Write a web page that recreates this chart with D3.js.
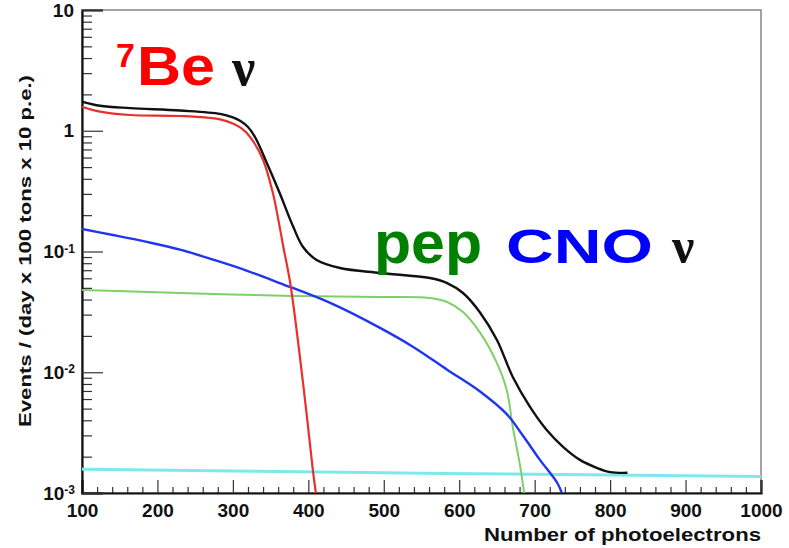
<!DOCTYPE html>
<html>
<head>
<meta charset="utf-8">
<script src="https://cdn.jsdelivr.net/npm/d3@7"></script>
<style>
  body { margin: 0; background: #fff; }
  svg { display: block; }
  text { font-family: "Liberation Sans", Arial, Helvetica, sans-serif; }
</style>
</head>
<body>
<div id="chart"></div>
<script>
// Values (x = number of photoelectrons, y = events)
var totalX = [100, 124, 164, 230, 283, 300, 310, 320, 330, 345, 362, 380, 393, 411, 442, 495, 561, 584, 605, 628, 650, 671, 694, 716, 738, 760, 783, 800, 823];
var totalY = [1.74, 1.61, 1.54, 1.47, 1.38, 1.29, 1.205, 1.075, 0.871, 0.54, 0.305, 0.160, 0.109, 0.0851, 0.0730, 0.0664, 0.0603, 0.0548, 0.0453, 0.0310, 0.0185, 0.00914, 0.00515, 0.00333, 0.00240, 0.00188, 0.00161, 0.00149, 0.00147];

var be7X = [100, 124, 164, 230, 283, 300, 312, 323, 340, 353, 362, 367, 376, 393, 406, 410];
var be7Y = [1.58, 1.44, 1.35, 1.325, 1.244, 1.15, 1.04, 0.887, 0.573, 0.305, 0.160, 0.108, 0.0548, 0.00815, 0.00155, 0.001];

var cnoX = [100, 141, 186, 230, 274, 319, 362, 429, 495, 539, 584, 628, 663, 685, 707, 730, 736];
var cnoY = [0.1535, 0.137, 0.120, 0.1035, 0.0855, 0.0692, 0.0548, 0.0375, 0.0233, 0.0162, 0.0105, 0.0069, 0.0045, 0.00295, 0.00188, 0.00121, 0.001];

var pepX = [100, 230, 380, 495, 561, 584, 605, 628, 650, 663, 671, 681, 686];
var pepY = [0.048, 0.0453, 0.0428, 0.042, 0.0412, 0.0382, 0.0315, 0.0211, 0.0119, 0.00713, 0.00352, 0.00164, 0.001];

var bkgX = [100, 300, 500, 700, 900, 1000];
var bkgY = [0.00157, 0.00152, 0.00147, 0.00143, 0.00139, 0.00137];

var xTicks = [100, 200, 300, 400, 500, 600, 700, 800, 900, 1000];
var yDecades = [0.001, 0.01, 0.1, 1, 10];
var yLabelBase = ['10', '10', '10', '1', '10'];
var yLabelExp = ['-3', '-2', '-1', '', ''];

(function () {
  var W = 789, H = 548;
  var margin = {top: 10, right: 28, bottom: 55, left: 82},
      width = W - margin.left - margin.right,
      height = H - margin.top - margin.bottom;

  var x = d3.scaleLinear().domain([100, 1000]).range([0, width]);
  var y = d3.scaleLog().domain([0.001, 10]).range([height, 0]);

  var svg = d3.select('#chart').append('svg')
      .attr('width', W)
      .attr('height', H);

  var g = svg.append('g')
      .attr('transform', 'translate(' + margin.left + ',' + margin.top + ')');

  g.append('clipPath').attr('id', 'plotClip')
    .append('rect').attr('width', width).attr('height', height);

  // frame
  g.append('rect')
      .attr('width', width).attr('height', height)
      .attr('fill', 'none').attr('stroke', '#666').attr('stroke-width', 1.2);

  // minor ticks
  var xMinor = d3.range(120, 1000, 20).filter(function (v) { return v % 100 !== 0; });
  g.append('g')
      .attr('transform', 'translate(0,' + height + ')')
      .call(d3.axisBottom(x).tickValues(xMinor).tickSize(-6).tickFormat(''))
      .call(function (a) { a.select('.domain').remove(); a.selectAll('line').attr('stroke', '#333').attr('stroke-width', 1.2); });

  var yMinor = [];
  yDecades.slice(0, 4).forEach(function (d) {
    for (var k = 2; k <= 9; k++) yMinor.push(d * k);
  });
  g.append('g')
      .call(d3.axisLeft(y).tickValues(yMinor).tickSize(-10).tickFormat(''))
      .call(function (a) { a.select('.domain').remove(); a.selectAll('line').attr('stroke', '#333').attr('stroke-width', 1.2); });

  // major x axis
  var xAxis = g.append('g')
      .attr('transform', 'translate(0,' + height + ')')
      .call(d3.axisBottom(x).tickValues(xTicks).tickSize(-13).tickPadding(11).tickFormat(d3.format('d')));
  xAxis.select('.domain').attr('stroke', '#111').attr('stroke-width', 2.2);
  xAxis.selectAll('line').attr('stroke', '#333').attr('stroke-width', 1.2);
  xAxis.selectAll('text')
      .attr('fill', '#111')
      .style('font-size', '19px')
      .style('font-weight', 'bold');

  // major y axis with 10^n labels
  var yAxis = g.append('g')
      .call(d3.axisLeft(y).tickValues(yDecades).tickSize(-21).tickPadding(8).tickFormat(''));
  yAxis.select('.domain').attr('stroke', '#111').attr('stroke-width', 2.2);
  yAxis.selectAll('line').attr('stroke', '#333').attr('stroke-width', 1.2);
  yAxis.selectAll('.tick text').each(function (d, i) {
    var t = d3.select(this)
        .attr('fill', '#111')
        .style('font-size', '19px')
        .style('font-weight', 'bold');
    if (yLabelExp[i]) t.attr('x', -7);
    t.append('tspan').text(yLabelBase[i]);
    if (yLabelExp[i]) {
      t.append('tspan')
          .attr('dy', '-0.45em')
          .style('font-size', '12px')
          .text(yLabelExp[i]);
    }
  });

  // axis titles
  svg.append('text')
      .attr('x', margin.left + width)
      .attr('y', 541)
      .attr('text-anchor', 'end')
      .attr('textLength', 277)
      .attr('lengthAdjust', 'spacingAndGlyphs')
      .attr('fill', '#111')
      .style('font-size', '19px')
      .style('font-weight', 'bold')
      .text('Number of photoelectrons');

  svg.append('text')
      .attr('transform', 'translate(31,251) rotate(-90)')
      .attr('text-anchor', 'middle')
      .attr('textLength', 352)
      .attr('lengthAdjust', 'spacingAndGlyphs')
      .attr('fill', '#111')
      .style('font-size', '17px')
      .style('font-weight', 'bold')
      .text('Events / (day x 100 tons x 10 p.e.)');

  // curves
  var line = d3.line()
      .x(function (d) { return x(d[0]); })
      .y(function (d) { return y(d[1]); })
      .curve(d3.curveCatmullRom.alpha(0.5));

  var series = [
    {xs: bkgX, ys: bkgY, color: '#7fe8ee', w: 3},
    {xs: pepX, ys: pepY, color: '#7fcf6a', w: 2},
    {xs: cnoX, ys: cnoY, color: '#2035f0', w: 2.4},
    {xs: be7X, ys: be7Y, color: '#e8302c', w: 2.2},
    {xs: totalX, ys: totalY, color: '#111111', w: 2.4}
  ];

  var plot = g.append('g').attr('clip-path', 'url(#plotClip)');
  series.forEach(function (s) {
    plot.append('path')
        .datum(d3.zip(s.xs, s.ys))
        .attr('fill', 'none')
        .attr('stroke', s.color)
        .attr('stroke-width', s.w)
        .attr('stroke-linejoin', 'round')
        .attr('d', line);
  });

  // in-plot labels
  var be = svg.append('text').attr('x', 116).attr('y', 85)
      .style('font-weight', 'bold');
  be.append('tspan').attr('fill', '#ff0000').attr('dy', '-18').style('font-size', '34px').text('7');
  be.append('tspan').attr('fill', '#ff0000').attr('dy', '18').attr('x', 137)
      .attr('textLength', 78).attr('lengthAdjust', 'spacingAndGlyphs')
      .style('font-size', '56px').text('Be');
  svg.append('text').attr('x', 232).attr('y', 85)
      .style('font-family', '"Liberation Serif", "DejaVu Serif", serif')
      .style('font-weight', 'bold').style('font-size', '52px')
      .attr('fill', '#111').text('ν');

  svg.append('text').attr('x', 374).attr('y', 263)
      .attr('textLength', 108).attr('lengthAdjust', 'spacingAndGlyphs')
      .style('font-weight', 'bold').style('font-size', '60px')
      .attr('fill', '#008000').text('pep');
  svg.append('text').attr('x', 506).attr('y', 263)
      .attr('textLength', 147).attr('lengthAdjust', 'spacingAndGlyphs')
      .style('font-weight', 'bold').style('font-size', '49px')
      .attr('fill', '#0000ff').text('CNO');
  svg.append('text').attr('x', 672).attr('y', 263)
      .style('font-family', '"Liberation Serif", "DejaVu Serif", serif')
      .style('font-weight', 'bold').style('font-size', '50px')
      .attr('fill', '#111').text('ν');
})();
</script>
</body>
</html>
